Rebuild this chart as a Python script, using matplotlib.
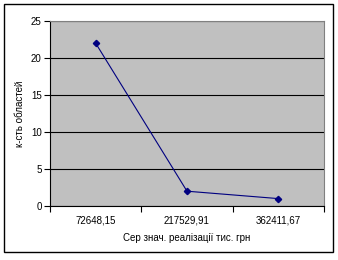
import matplotlib
matplotlib.use('Agg')
import matplotlib.pyplot as plt
from matplotlib.patches import Rectangle

categories = ['72648,15', '217529,91', '362411,67']
counts = [22, 2, 1]
y_ticks = [0, 5, 10, 15, 20, 25]

plt.rcParams['font.family'] = ['Liberation Sans', 'DejaVu Sans']

fig = plt.figure(figsize=(3.38, 2.6), dpi=100)
W, H = 338, 260
ax = fig.add_axes([50 / W, 1 - 206 / H, (324 - 50) / W, (206 - 21) / H])

# outer chart border
fig.patches.append(Rectangle((4 / W, 1 - 252 / H), 329 / W, 248 / H,
                             transform=fig.transFigure, fill=False,
                             edgecolor='black', linewidth=1))

ax.set_facecolor('#C0C0C0')
x = range(len(categories))
ax.plot(x, counts, color='#000080', linewidth=0.8, marker='D', markersize=3.2)

ax.set_xlim(-0.5, len(categories) - 0.5)
ax.set_ylim(0, 25)
ax.set_yticks(y_ticks)
ax.set_yticklabels([str(v) for v in y_ticks], fontsize=7)
ax.set_xticks(list(x))
ax.set_xticklabels(categories, fontsize=7)
ax.set_xticks([i - 0.5 for i in range(len(categories) + 1)], minor=True)
ax.tick_params(axis='x', which='major', length=0, pad=7)
ax.tick_params(axis='x', which='minor', length=4, width=0.8, direction='out')
ax.tick_params(axis='y', length=4, width=0.8, direction='out', pad=2)
ax.grid(axis='y', color='black', linewidth=0.8)
ax.set_axisbelow(True)

for side in ['top', 'right']:
    ax.spines[side].set_color('#808080')
for side in ['left', 'bottom']:
    ax.spines[side].set_color('black')

ax.set_xlabel('Сер знач. реалізації тис. грн', fontsize=7, labelpad=5)
ax.set_ylabel('к-сть областей', fontsize=7, labelpad=4)

fig.savefig('out.png', dpi=100)
